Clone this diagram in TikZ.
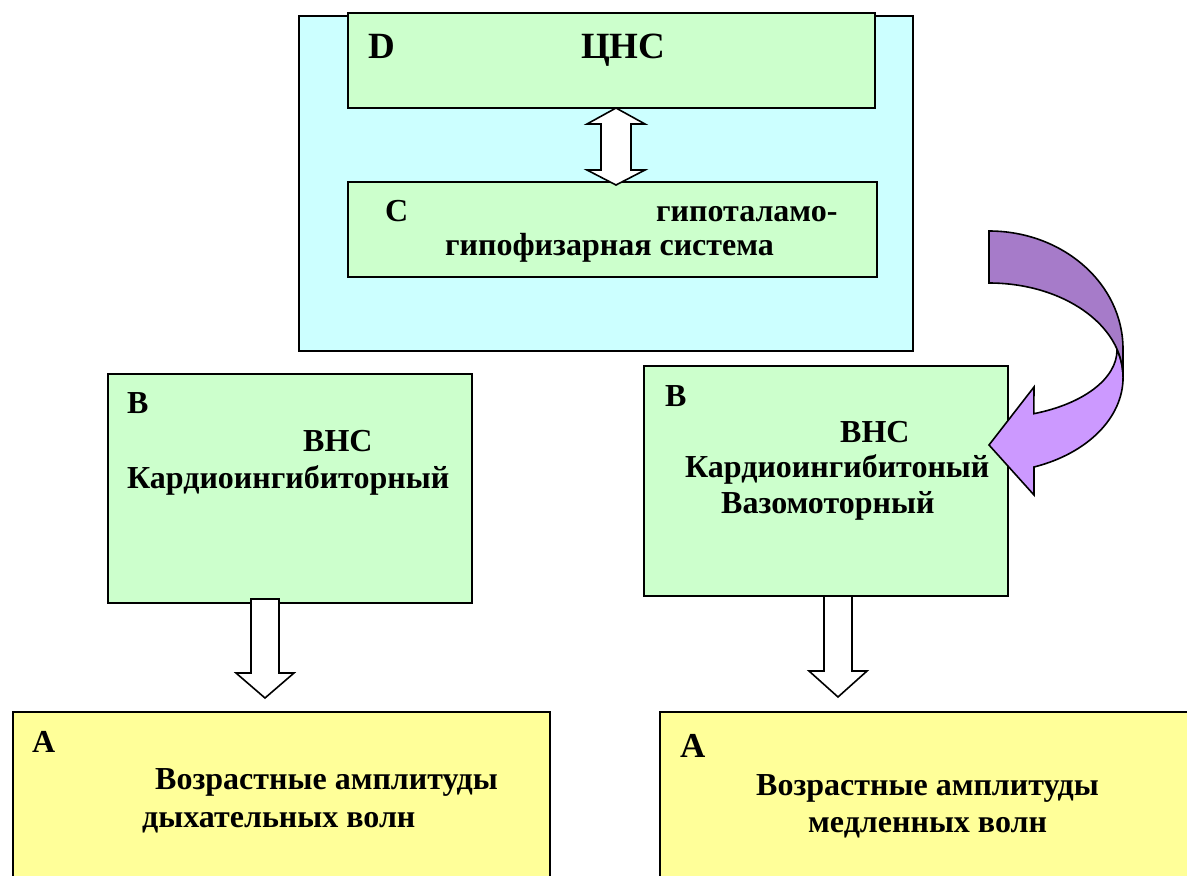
\documentclass[tikz,border=0pt]{standalone}
\usepackage{fontspec}
\setmainfont{Liberation Serif}
\definecolor{cyanbg}{HTML}{CCFFFF}
\definecolor{greenbg}{HTML}{CCFFCC}
\definecolor{yellowbg}{HTML}{FFFF99}
\definecolor{purpleback}{HTML}{A67BC9}
\definecolor{purplefront}{HTML}{CC99FF}
\begin{document}
\begin{tikzpicture}[x=1pt,y=-1pt,
  box/.style={draw=black, line width=1.6pt, rectangle, inner sep=0pt, anchor=north west},
  txt/.style={anchor=base west, inner sep=0pt, font=\fontsize{32}{38}\selectfont\bfseries},
  bigtxt/.style={anchor=base west, inner sep=0pt, font=\fontsize{37}{42}\selectfont\bfseries},
  tallA/.style={anchor=base west, inner sep=0pt, font=\fontsize{35}{40}\selectfont\bfseries},
  blockarrow/.style={draw=black, fill=white, line width=1.6pt, line join=miter},
  ribbon/.style={draw=black, line width=1.6pt, line join=miter}]
\useasboundingbox (0,0) rectangle (1187,876);
\clip (0,0) rectangle (1187,876);
\fill[white] (0,0) rectangle (1187,876);

% outer system box
\node[box, fill=cyanbg, minimum width=614, minimum height=335] (sys) at (298,15) {};
\node[box, fill=greenbg, minimum width=527, minimum height=95] (D) at (347,12) {};
\node[box, fill=greenbg, minimum width=529, minimum height=95] (C) at (347,181) {};

% B boxes
\node[box, fill=greenbg, minimum width=364, minimum height=229] (Bl) at (107,373) {};
\node[box, fill=greenbg, minimum width=364, minimum height=230] (Br) at (643,365) {};

% A boxes
\node[box, fill=yellowbg, minimum width=537, minimum height=200] (Al) at (12,711) {};
\node[box, fill=yellowbg, minimum width=560, minimum height=200] (Ar) at (659,711) {};

% double arrow D <-> C
\draw[blockarrow] (616,108) -- (645,124) -- (631,124) -- (631,170) -- (645,170)
  -- (616,185) -- (587,170) -- (601,170) -- (601,124) -- (587,124) -- cycle;

% down arrows B -> A
\draw[blockarrow] (251,599) -- (279,599) -- (279,673) -- (294,673) -- (265,698)
  -- (236,673) -- (251,673) -- cycle;
\draw[blockarrow] (824,596) -- (852,596) -- (852,671) -- (867,671) -- (838,697)
  -- (809,671) -- (824,671) -- cycle;

% curved arrow (front part, then back part)
\draw[ribbon, fill=purplefront] (1117,350) arc[start angle=0, end angle=69.5, x radius=128, y radius=68]
  -- (1034,387) -- (989,445) -- (1034,495) -- (1034,467)
  arc[start angle=70.4, end angle=0, x radius=134, y radius=95]
  arc[start angle=0, end angle=-17, x radius=134, y radius=94] -- cycle;
\draw[ribbon, fill=purpleback] (989,231) arc[start angle=-90, end angle=0, x radius=134, y radius=118]
  -- (1123,377) arc[start angle=0, end angle=-90, x radius=134, y radius=94] -- cycle;

% texts
\node[bigtxt] (tD) at (368,58) {D};
\node[bigtxt] (tCNS) at (581,58) {ЦНС};
\node[txt] (tC) at (385,221) {C};
\node[txt] (tC1) at (656,221) {гипоталамо-};
\node[txt] (tC2) at (445,255) {гипофизарная система};

\node[txt] (tBl) at (127,413) {B};
\node[txt] (tBl1) at (303,451) {ВНС};
\node[txt] (tBl2) at (127,488) {Кардиоингибиторный};

\node[txt] (tBr) at (665,406) {B};
\node[txt] (tBr1) at (840,442) {ВНС};
\node[txt] (tBr2) at (685,477) {Кардиоингибитоный};
\node[txt] (tBr3) at (721,513) {Вазомоторный};

\node[txt] (tAl) at (32,752) {A};
\node[txt] (tAl1) at (155,789) {Возрастные амплитуды};
\node[txt] (tAl2) at (142,827) {дыхательных волн};

\node[tallA] (tAr) at (680,757) {A};
\node[txt] (tAr1) at (756,795) {Возрастные амплитуды};
\node[txt] (tAr2) at (808,832) {медленных волн};
\end{tikzpicture}
\end{document}
